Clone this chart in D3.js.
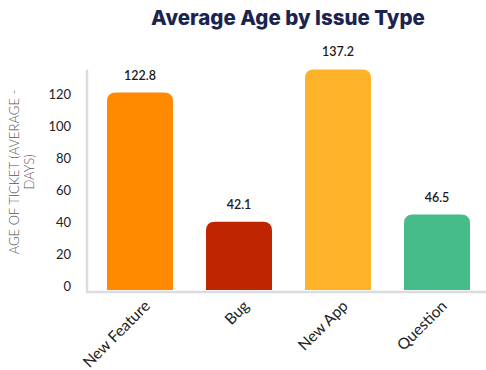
<!DOCTYPE html>
<html>
<head>
<meta charset="utf-8">
<script src="https://cdn.jsdelivr.net/npm/d3@7"></script>
<style>
  html, body { margin: 0; padding: 0; background: #fff; }
  svg { display: block; }
</style>
</head>
<body>
<svg id="chart" width="486" height="370"></svg>
<script>
// Average ticket age per issue type
const categories = ["New Feature", "Bug", "New App", "Question"];
const avgAgeDays = [122.8, 42.1, 137.2, 46.5];
const barColors = ["#FF8A00", "#BE2500", "#FDB22A", "#45BC89"];
const yTicks = [0, 20, 40, 60, 80, 100, 120];

const svg = d3.select("#chart");

const x = d3.scaleBand()
  .domain(categories)
  .range([90.5, 486.5])
  .paddingInner(1 / 3)
  .paddingOuter(1 / 6);

const y = d3.scaleLinear()
  .domain([0, 140])
  .range([289, 65]);

const numFont = "'Lato', 'Open Sans', sans-serif";

// Title
svg.append("text")
  .attr("x", 288)
  .attr("y", 25)
  .attr("text-anchor", "middle")
  .attr("font-family", "Inter, 'Open Sans', sans-serif")
  .attr("font-weight", 800)
  .attr("font-size", 20.5)
  .attr("fill", "#1B2450")
  .text("Average Age by Issue Type");

// Y axis labels
const yAxis = d3.axisLeft(y)
  .tickValues(yTicks)
  .tickSize(0)
  .tickPadding(0);

const yG = svg.append("g")
  .attr("transform", "translate(71,0)")
  .call(yAxis);
yG.select(".domain").remove();
yG.selectAll("text")
  .attr("font-family", numFont)
  .attr("font-size", 13)
  .attr("fill", "#222")
  .attr("dy", "0.1em");

// Axis lines
svg.append("line")
  .attr("x1", 87).attr("x2", 87)
  .attr("y1", y(137)).attr("y2", 292)
  .attr("stroke", "#DADCE2").attr("stroke-width", 2.5);
svg.append("line")
  .attr("x1", 86).attr("x2", 486)
  .attr("y1", 292).attr("y2", 292)
  .attr("stroke", "#DADCE2").attr("stroke-width", 2.5);

// Bars with rounded tops
const r = 9;
function barPath(x0, w, yTop, yBot) {
  const rr = Math.min(r, (yBot - yTop));
  return `M${x0},${yBot}V${yTop + rr}Q${x0},${yTop} ${x0 + rr},${yTop}` +
         `H${x0 + w - rr}Q${x0 + w},${yTop} ${x0 + w},${yTop + rr}V${yBot}Z`;
}

svg.append("g").selectAll("path")
  .data(categories)
  .join("path")
  .attr("d", (c, i) => barPath(x(c), x.bandwidth(), y(avgAgeDays[i]), y(0) + 1))
  .attr("fill", (c, i) => barColors[i]);

// Value labels
svg.append("g").selectAll("text")
  .data(categories)
  .join("text")
  .attr("x", c => x(c) + x.bandwidth() / 2)
  .attr("y", (c, i) => y(avgAgeDays[i]) - 13)
  .attr("text-anchor", "middle")
  .attr("font-family", numFont)
  .attr("font-weight", 600)
  .attr("font-size", 12.5)
  .attr("fill", "#1a1a1a")
  .text((c, i) => avgAgeDays[i].toFixed(1));

// Category labels, rotated
svg.append("g").selectAll("text")
  .data(categories)
  .join("text")
  .attr("transform", c => `translate(${x(c) + x.bandwidth() / 2 + 11},${307}) rotate(-45)`)
  .attr("text-anchor", "end")
  .attr("font-family", numFont)
  .attr("font-size", 15.5)
  .attr("fill", "#222")
  .text(c => c);

// Y axis title
const yTitle = svg.append("text")
  .attr("transform", "translate(0,172) rotate(-90)")
  .attr("text-anchor", "middle")
  .attr("font-family", numFont)
  .attr("font-weight", 300)
  .attr("font-size", 13)
  .attr("fill", "#555");
yTitle.append("tspan").attr("x", 0).attr("y", 19).text("AGE OF TICKET (AVERAGE -");
yTitle.append("tspan").attr("x", 0).attr("y", 34).text("DAYS)");
</script>
</body>
</html>
